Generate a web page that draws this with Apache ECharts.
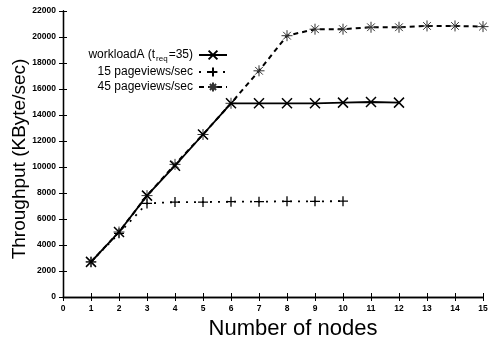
<!DOCTYPE html>
<html>
<head>
<meta charset="utf-8">
<script src="https://cdn.jsdelivr.net/npm/echarts@6/dist/echarts.min.js"></script>
<style>
  html, body { margin: 0; padding: 0; background: #fff; }
  #chart { width: 499px; height: 338px; }
</style>
</head>
<body>
<div id="chart"></div>
<script>
// Throughput versus cluster size
const nodesWorkload = [1, 2, 3, 4, 5, 6, 7, 8, 9, 10, 11, 12];
const workloadA = [2700, 5000, 7800, 10100, 12500, 14900, 14900, 14900, 14900, 14950, 15000, 14950];

const nodes15 = [1, 2, 3, 4, 5, 6, 7, 8, 9, 10];
const pv15 = [2700, 4900, 7200, 7300, 7300, 7330, 7330, 7360, 7360, 7370];

const nodes45 = [1, 2, 3, 4, 5, 6, 7, 8, 9, 10, 11, 12, 13, 14, 15];
const pv45 = [2700, 5000, 7800, 10200, 12500, 14900, 17400, 20100, 20600, 20600, 20750, 20750, 20850, 20850, 20800];

const seriesNames = ['workloadA', '15 pageviews/sec', '45 pageviews/sec'];
const xTicks = { min: 0, max: 15, interval: 1 };
const yTicks = { min: 0, max: 22000, interval: 2000 };

const FONT = '"Liberation Sans", Arial, Helvetica, sans-serif';

// stroked marker glyphs
const SYM_X = 'path://M0,0L10,10M10,0L0,10';
const SYM_PLUS = 'path://M0,5L10,5M5,0L5,10';
const SYM_STAR = 'path://M0,5L10,5M5,0L5,10M1.5,1.5L8.5,8.5M8.5,1.5L1.5,8.5';

const pairs = (xs, ys) => xs.map((x, i) => [x, ys[i]]);

const chart = echarts.init(document.getElementById('chart'), null, { renderer: 'canvas' });

const axisCommon = {
  type: 'value',
  axisLine: { show: true, lineStyle: { color: '#000', width: 1.3 } },
  axisTick: { show: true, inside: true, length: 4, lineStyle: { color: '#000', width: 1 } },
  splitLine: { show: false },
};

function legendFor(name, top) {
  return {
    data: [name],
    right: 271,
    top: top,
    padding: 0,
    align: 'right',
    itemWidth: 28,
    itemHeight: 11,
    selectedMode: false,
    textStyle: {
      fontFamily: FONT, fontSize: 12, color: '#000', padding: [0, 1, 0, 0],
      rich: {
        sub: { fontFamily: FONT, fontSize: 8, color: '#000', padding: [7, 1, 0, 1] },
        n: { fontFamily: FONT, fontSize: 12, color: '#000' }
      }
    },
    formatter: n => n === 'workloadA' ? '{n|workloadA (t}{sub|req}{n|=35)}' : n
  };
}

chart.setOption({
  animation: false,
  backgroundColor: '#fff',
  grid: { left: 63, right: 16, top: 11, bottom: 41, containLabel: false, outerBoundsMode: 'none' },
  legend: [
    legendFor(seriesNames[0], 49),
    legendFor(seriesNames[1], 66),
    legendFor(seriesNames[2], 81),
  ],
  xAxis: [
    Object.assign({}, axisCommon, xTicks, {
      position: 'bottom',
      name: 'Number of nodes',
      nameLocation: 'middle',
      nameGap: 15,
      nameTextStyle: { fontFamily: FONT, fontSize: 22, color: '#000', padding: [0, 0, 0, 40] },
      axisLabel: { fontFamily: FONT, fontSize: 8.5, fontWeight: 'bold', color: '#000', margin: 7 },
    }),
    Object.assign({}, axisCommon, xTicks, {
      position: 'top',
      axisLabel: { show: false },
    }),
  ],
  yAxis: [
    Object.assign({}, axisCommon, yTicks, {
      position: 'left',
      name: 'Throughput (KByte/sec)',
      nameLocation: 'middle',
      nameGap: 34,
      nameMoveOverlap: false,
      nameTextStyle: { fontFamily: FONT, fontSize: 19, color: '#000', padding: [0, 10, 0, 0] },
      axisLabel: { fontFamily: FONT, fontSize: 8.5, fontWeight: 'bold', color: '#000', margin: 7,
        formatter: v => String(v) },
    }),
    Object.assign({}, axisCommon, yTicks, {
      position: 'right',
      axisLabel: { show: false },
    }),
  ],
  series: [
    {
      name: seriesNames[1],
      type: 'line',
      data: pairs(nodes15, pv15),
      symbol: SYM_PLUS,
      symbolSize: 10,
      lineStyle: { color: '#000', width: 1.8, type: [2, 6] },
      itemStyle: { color: '#000', borderColor: '#000', borderWidth: 1.3 },
      z: 2,
    },
    {
      name: seriesNames[2],
      type: 'line',
      data: pairs(nodes45, pv45),
      symbol: SYM_STAR,
      symbolSize: 11,
      lineStyle: { color: '#000', width: 2, type: [5, 4] },
      itemStyle: { color: '#333', borderColor: '#333', borderWidth: 1 },
      z: 3,
    },
    {
      name: seriesNames[0],
      type: 'line',
      data: pairs(nodesWorkload, workloadA),
      symbol: SYM_X,
      symbolSize: 10,
      lineStyle: { color: '#000', width: 1.8, type: 'solid' },
      itemStyle: { color: '#000', borderColor: '#000', borderWidth: 1.5 },
      z: 4,
    },
  ],
});
</script>
</body>
</html>
